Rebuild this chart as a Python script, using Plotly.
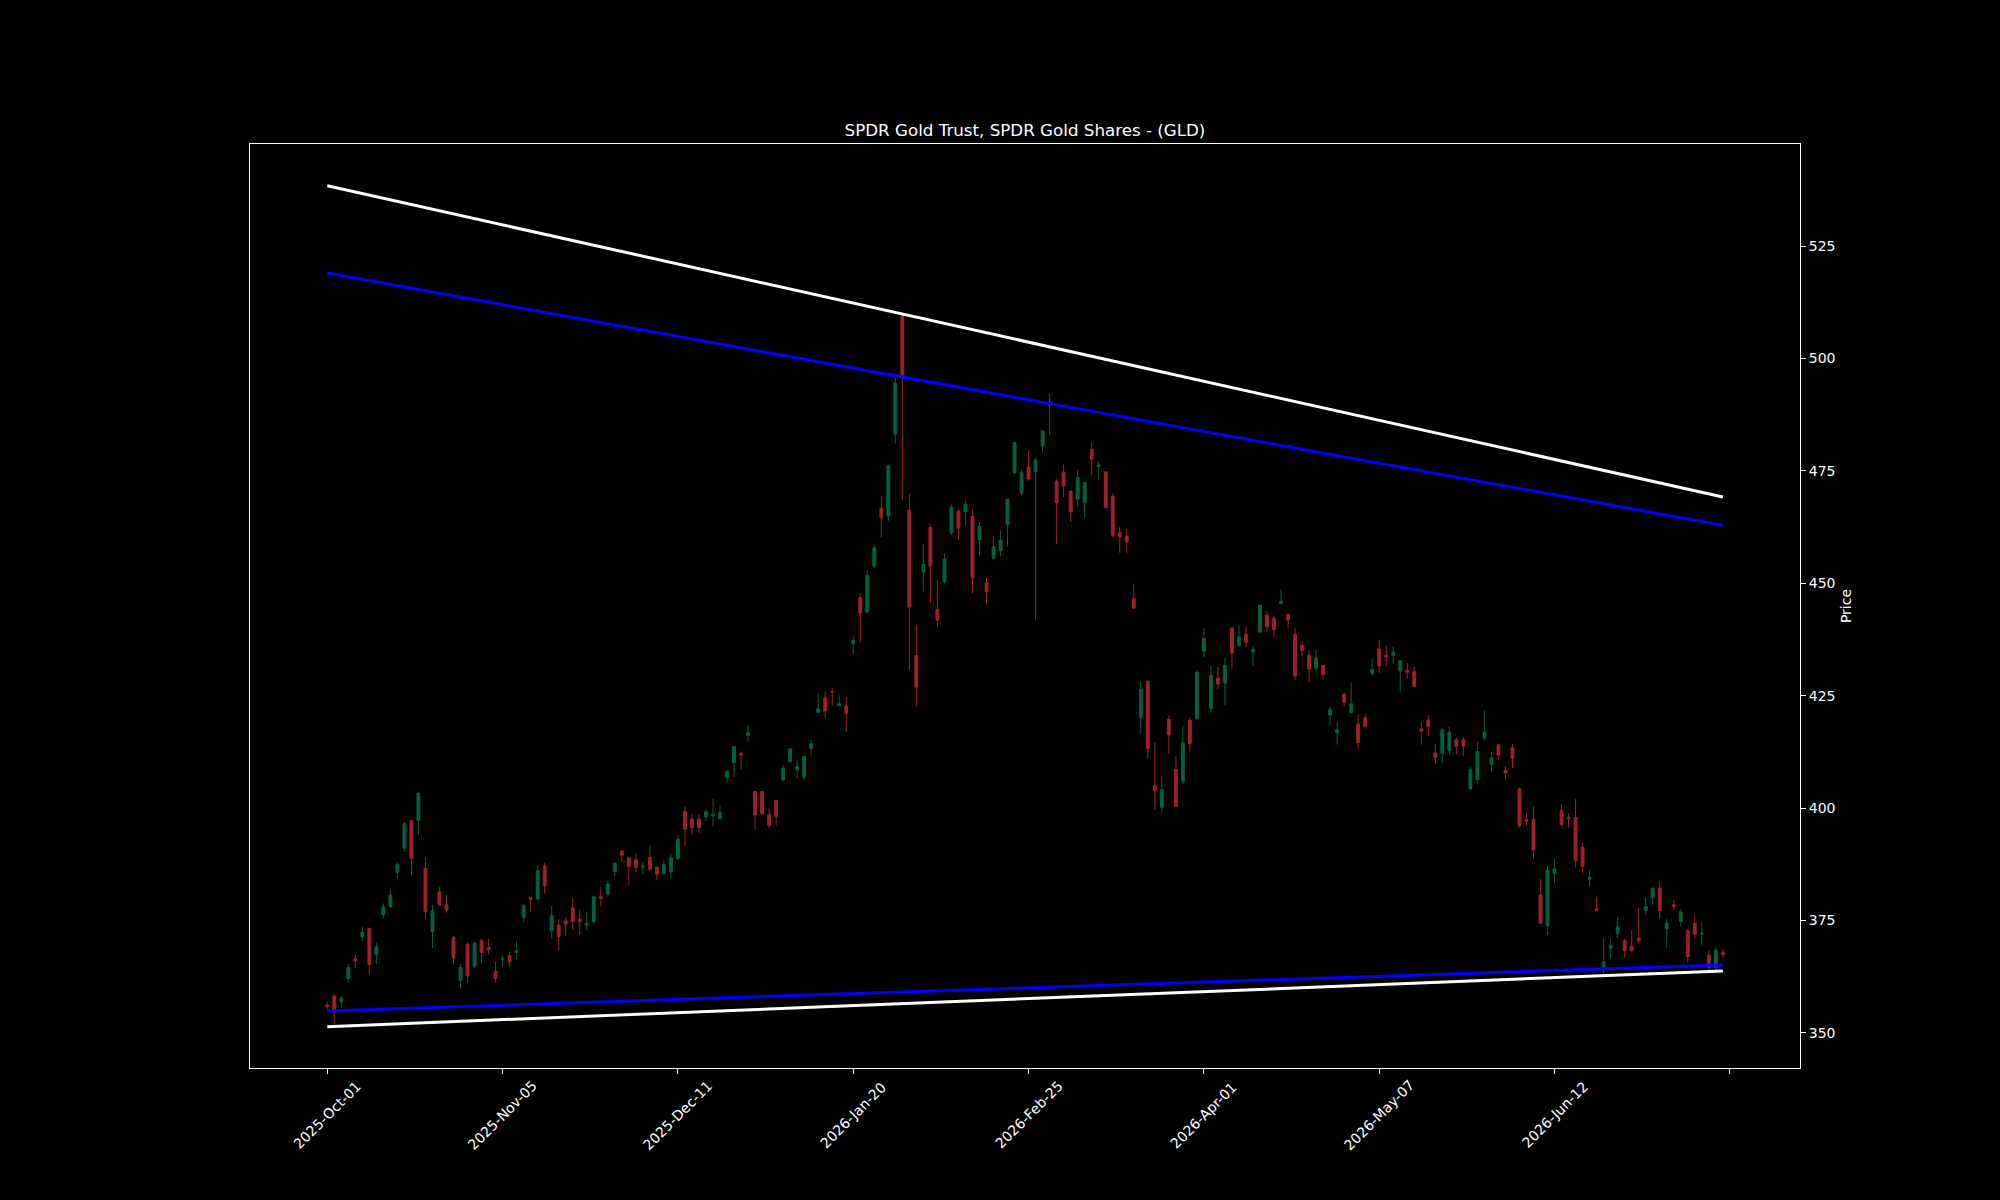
import plotly.graph_objects as go

# ---------------- data ----------------
opens = [356.2, 358.2, 356.9, 362.1, 366.5, 371.4, 373.2, 367.5, 376.3, 378.1,
         385.7, 391.1, 397.2, 397.3, 386.6, 372.5, 381.4, 378.5, 371.2, 361.6,
         369.7, 364.9, 370.5, 369.0, 363.7, 366.4, 367.2, 367.9, 375.7, 380.1,
         379.9, 387.1, 372.7, 374.0, 374.9, 377.8, 375.3, 374.0, 374.8, 380.3,
         380.9, 385.9, 390.5, 388.9, 388.5, 386.8, 389.0, 386.9, 385.5, 385.8,
         388.8, 399.2, 397.6, 397.6, 398.0, 398.3, 397.7, 406.9, 410.2, 412.2,
         416.2, 403.7, 403.7, 398.5, 401.7, 406.3, 410.4, 408.5, 406.9, 413.2,
         421.3, 424.5, 425.9, 422.8, 422.7, 436.6, 446.8, 443.6, 453.9, 466.6,
         465.0, 483.2, 509.5, 466.3, 433.9, 452.5, 462.4, 444.2, 450.4, 461.2,
         466.0, 465.9, 464.9, 459.7, 450.1, 455.6, 457.2, 463.1, 474.6, 470.0,
         475.9, 474.8, 480.6, 490.3, 472.7, 474.7, 470.5, 468.7, 467.9, 479.8,
         476.0, 474.8, 469.4, 461.3, 460.5, 446.6, 420.2, 428.2, 405.0, 400.2,
         419.7, 408.6, 406.0, 419.5, 420.0, 434.9, 422.2, 428.9, 427.8, 440.0,
         436.2, 438.6, 434.7, 439.2, 442.9, 442.2, 445.5, 443.1, 438.6, 436.2,
         434.0, 431.1, 431.7, 420.7, 416.7, 425.3, 421.3, 418.7, 420.1, 430.0,
         435.4, 434.0, 434.0, 430.5, 430.6, 430.4, 417.6, 419.6, 412.3, 412.1,
         412.9, 415.2, 415.2, 404.3, 406.3, 415.6, 409.7, 414.1, 408.4, 413.4,
         404.3, 397.4, 397.6, 380.7, 373.8, 385.5, 399.4, 398.0, 397.9, 391.3,
         384.1, 377.6, 364.7, 368.8, 372.1, 370.5, 369.2, 371.1, 377.2, 380.1,
         382.2, 373.1, 378.5, 374.8, 372.7, 374.4, 372.0, 367.3, 364.6, 367.9]

highs = [356.8, 358.6, 358.2, 365.3, 367.3, 373.6, 373.3, 370.1, 378.8, 382.2,
         387.9, 396.9, 397.2, 403.4, 389.0, 378.5, 382.4, 380.7, 371.6, 365.4,
         370.1, 370.3, 370.9, 370.9, 365.8, 367.2, 368.1, 370.5, 378.7, 380.2,
         387.4, 387.9, 378.3, 375.3, 375.7, 380.0, 377.5, 377.0, 380.3, 382.5,
         383.9, 387.8, 390.5, 388.9, 390.0, 388.1, 391.6, 386.9, 388.3, 389.8,
         393.9, 400.3, 398.7, 398.7, 399.8, 402.0, 400.6, 408.5, 413.7, 412.6,
         418.4, 403.7, 403.7, 399.9, 401.7, 409.6, 413.2, 410.7, 411.7, 415.2,
         425.6, 426.0, 426.8, 425.1, 424.8, 438.2, 447.8, 452.9, 458.6, 469.4,
         476.4, 495.8, 509.6, 470.0, 440.8, 458.8, 463.1, 450.8, 456.8, 467.5,
         466.6, 468.6, 466.4, 463.6, 451.3, 460.5, 461.6, 468.7, 481.3, 475.3,
         479.6, 477.8, 483.9, 492.1, 473.1, 476.4, 470.7, 475.3, 472.6, 481.3,
         477.2, 474.8, 470.0, 462.5, 462.2, 449.9, 428.2, 428.6, 414.5, 407.2,
         420.6, 411.5, 418.4, 420.1, 430.6, 440.1, 431.7, 431.4, 433.4, 440.4,
         440.8, 440.4, 436.2, 445.1, 443.8, 442.8, 448.7, 443.2, 440.1, 436.9,
         435.2, 435.2, 431.7, 422.5, 419.1, 425.6, 427.9, 420.8, 421.0, 433.2,
         437.4, 436.2, 436.0, 432.8, 432.3, 431.4, 419.1, 420.7, 414.3, 417.8,
         418.2, 415.6, 415.8, 409.1, 414.7, 421.7, 412.4, 414.1, 409.3, 414.3,
         404.6, 398.9, 400.4, 384.2, 387.2, 388.7, 400.9, 398.9, 402.0, 392.4,
         386.3, 380.3, 371.0, 371.0, 375.8, 371.0, 372.9, 377.8, 380.1, 382.5,
         383.6, 375.3, 379.5, 377.5, 373.1, 376.2, 374.6, 368.4, 369.0, 368.6]

lows = [355.3, 351.9, 355.6, 361.2, 364.4, 370.5, 362.8, 365.3, 375.5, 377.8,
        384.4, 390.2, 385.1, 394.0, 375.5, 368.9, 378.3, 376.7, 365.3, 359.9,
        361.2, 364.4, 365.5, 367.5, 361.2, 364.6, 364.6, 366.3, 374.6, 376.8,
        379.3, 381.0, 370.9, 368.4, 371.5, 372.9, 371.8, 372.7, 374.1, 378.1,
        380.3, 384.8, 388.1, 382.9, 385.7, 385.3, 386.1, 384.0, 385.1, 384.5,
        388.3, 391.4, 394.1, 394.5, 397.1, 396.0, 397.2, 405.5, 406.9, 408.7,
        414.8, 395.4, 398.5, 395.6, 396.2, 406.1, 410.2, 406.5, 406.3, 411.7,
        421.3, 420.1, 422.8, 422.7, 416.9, 434.1, 436.9, 443.4, 453.3, 460.2,
        463.9, 481.1, 468.4, 430.8, 422.6, 448.1, 445.6, 440.3, 449.9, 460.8,
        459.6, 462.9, 447.8, 456.2, 445.5, 455.3, 456.0, 458.1, 474.3, 469.4,
        472.8, 441.9, 479.1, 483.1, 458.8, 469.2, 463.7, 467.0, 464.5, 474.0,
        473.1, 466.8, 460.2, 456.8, 456.8, 444.3, 416.7, 411.1, 399.6, 399.2,
        412.1, 400.4, 405.4, 412.6, 419.5, 433.6, 421.2, 426.5, 422.8, 431.2,
        435.8, 435.8, 431.6, 438.9, 439.4, 438.0, 445.3, 439.9, 428.5, 433.7,
        428.0, 430.5, 428.5, 418.4, 414.1, 422.7, 421.0, 413.2, 417.9, 429.5,
        430.0, 431.5, 432.1, 425.8, 428.8, 426.9, 414.1, 416.0, 409.8, 410.0,
        411.8, 411.9, 411.5, 404.0, 405.4, 415.0, 408.1, 410.8, 406.1, 408.9,
        395.7, 396.0, 388.7, 374.4, 371.8, 383.3, 396.0, 395.7, 386.8, 385.5,
        382.7, 377.0, 363.2, 366.6, 371.1, 366.8, 368.1, 370.1, 376.2, 378.5,
        375.5, 368.9, 377.3, 373.6, 365.7, 370.9, 369.5, 364.0, 364.0, 366.8]

closes = [355.8, 355.1, 357.7, 364.5, 366.0, 372.4, 365.2, 369.2, 378.1, 380.7,
          387.4, 396.5, 388.8, 403.3, 377.0, 377.2, 378.5, 377.4, 366.7, 364.6,
          362.7, 370.0, 367.9, 368.5, 362.1, 366.5, 365.8, 368.3, 378.3, 379.7,
          386.1, 382.8, 376.1, 371.5, 374.2, 374.8, 374.8, 374.3, 380.3, 379.9,
          383.1, 387.8, 389.5, 387.0, 386.8, 387.2, 386.4, 385.3, 387.4, 388.9,
          393.1, 395.3, 395.7, 395.7, 399.2, 398.6, 399.0, 408.2, 413.7, 411.8,
          416.8, 398.5, 398.8, 396.2, 398.2, 408.8, 413.2, 409.2, 411.5, 414.3,
          422.1, 421.6, 425.8, 423.2, 421.1, 437.3, 443.4, 451.8, 457.9, 464.6,
          476.1, 494.5, 496.3, 444.7, 426.9, 454.2, 453.9, 441.8, 455.4, 466.9,
          462.3, 467.6, 451.2, 462.7, 448.1, 458.2, 459.6, 468.7, 481.3, 474.6,
          473.2, 477.4, 483.9, 489.6, 467.9, 471.7, 465.9, 473.5, 472.4, 477.6,
          476.3, 466.8, 460.7, 460.3, 459.2, 444.5, 426.4, 413.3, 403.9, 404.1,
          416.3, 400.4, 414.6, 414.4, 430.2, 437.7, 429.5, 427.6, 431.7, 434.5,
          438.1, 436.9, 435.3, 445.1, 440.3, 439.7, 446.0, 441.8, 429.4, 435.1,
          430.9, 433.4, 429.7, 421.9, 417.4, 423.6, 423.2, 414.6, 418.2, 430.8,
          431.6, 433.6, 434.6, 432.8, 430.2, 427.1, 417.1, 418.2, 411.3, 417.4,
          416.9, 413.8, 413.8, 408.5, 412.6, 416.9, 411.2, 411.8, 407.8, 411.1,
          396.1, 397.1, 390.7, 374.4, 386.2, 386.5, 396.3, 397.6, 388.3, 387.05,
          384.6, 377.2, 365.8, 369.4, 373.6, 368.3, 368.3, 370.5, 378.1, 382.1,
          377.2, 374.4, 378.1, 376.9, 367.0, 372.0, 372.2, 364.6, 368.4, 367.4]

bar_index = list(range(len(opens)))

tick_positions = [0, 25, 50, 75, 100, 125, 150, 175, 200]
tick_labels = ["2025-Oct-01", "2025-Nov-05", "2025-Dec-11", "2026-Jan-20",
               "2026-Feb-25", "2026-Apr-01", "2026-May-07", "2026-Jun-12", ""]

price_ticks = [350, 375, 400, 425, 450, 475, 500, 525]

trend_x = [0, 199]
upper_white = [538.4, 469.2]
upper_blue = [519.0, 462.9]
lower_blue = [354.9, 365.1]
lower_white = [351.4, 363.8]

# ---------------- style ----------------
UP = "#006340"
DOWN = "#A02128"
FONT = "DejaVu Sans"

fig = go.Figure()

fig.add_trace(go.Candlestick(
    x=bar_index, open=opens, high=highs, low=lows, close=closes,
    increasing=dict(line=dict(color=UP, width=1), fillcolor=UP),
    decreasing=dict(line=dict(color=DOWN, width=1), fillcolor=DOWN),
    whiskerwidth=0, hoverinfo="skip", showlegend=False,
))

for yvals, col in [(upper_white, "white"), (upper_blue, "#0000FF"),
                   (lower_blue, "#0000FF"), (lower_white, "white")]:
    fig.add_trace(go.Scatter(x=trend_x, y=yvals, mode="lines",
                             line=dict(color=col, width=3),
                             hoverinfo="skip", showlegend=False))

annotations = []
for pos, lab in zip(tick_positions, tick_labels):
    if not lab:
        continue
    annotations.append(dict(
        x=pos, xref="x", y=-0.0509, yref="paper", text=lab,
        textangle=-45, showarrow=False, xanchor="center", yanchor="middle",
        font=dict(family=FONT, size=14, color="white"),
    ))

fig.update_layout(
    width=2000, height=1200,
    paper_bgcolor="black", plot_bgcolor="black",
    margin=dict(l=250, r=200, t=144, b=132, autoexpand=False),
    showlegend=False, hovermode=False,
    boxgap=0.42,
    font=dict(family=FONT, color="white", size=14),
    title=dict(text="SPDR Gold Trust, SPDR Gold Shares - (GLD)",
               x=0.5125, xanchor="center", y=1 - 130 / 1200, yanchor="middle",
               font=dict(family=FONT, size=16.7, color="white")),
    annotations=annotations,
    xaxis=dict(
        range=[-11.02, 210.0], rangeslider=dict(visible=False),
        tickmode="array", tickvals=tick_positions, showticklabels=False,
        ticks="outside", ticklen=5, tickwidth=1, tickcolor="white",
        showline=True, mirror=True, linecolor="white", linewidth=1,
        showgrid=False, zeroline=False,
    ),
    yaxis=dict(
        range=[342.2, 547.7], side="right",
        tickmode="array", tickvals=price_ticks,
        ticktext=[str(v) for v in price_ticks],
        tickfont=dict(family=FONT, size=14, color="white"),
        ticks="outside", ticklen=5, tickwidth=1, tickcolor="white",
        showline=True, mirror=True, linecolor="white", linewidth=1,
        showgrid=False, zeroline=False,
        title=dict(text="Price", standoff=6,
                   font=dict(family=FONT, size=14, color="white")),
    ),
)

fig.write_html("out.html")
